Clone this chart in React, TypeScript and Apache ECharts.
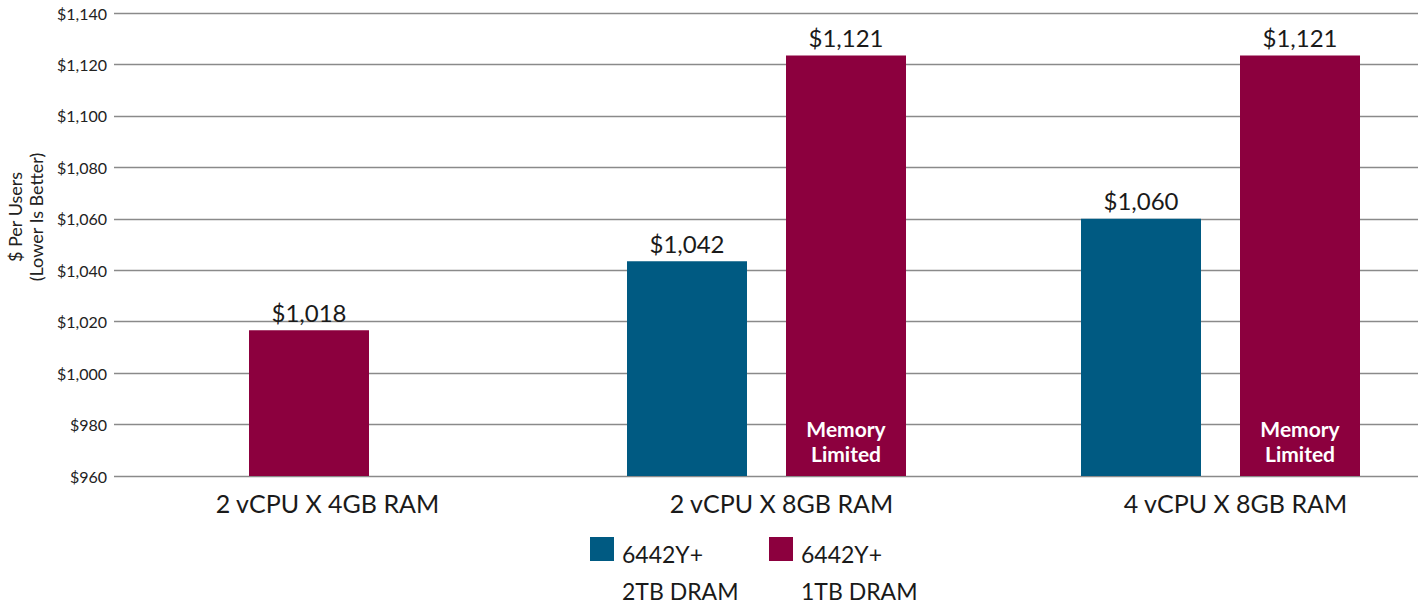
import React, { useEffect, useRef } from "react";
import * as echarts from "echarts";

const categories = ["2 vCPU X 4GB RAM", "2 vCPU X 8GB RAM", "4 vCPU X 8GB RAM"];
const seriesNames = ["6442Y+\n2TB DRAM", "6442Y+\n1TB DRAM"];
// bar heights
const blueValues: (number | string)[] = ["-", 1043.5, 1060];
const redValues: (number | string)[] = ["-", 1123.5, 1123.5];
const redSingleValues: (number | string)[] = [1016.7, "-", "-"];
// printed value labels
const blueLabels = ["", "$1,042", "$1,060"];
const redLabels = ["$1,018", "$1,121", "$1,121"];
const noteLabels = ["", "Memory\nLimited", "Memory\nLimited"];
const yMin = 960;
const yMax = 1140;
const yStep = 20;
const yTitle = "$ Per Users\n(Lower Is Better)";

const BLUE = "#005a82";
const RED = "#8c003e";
const FONT = "Lato";

export default function App() {
  const ref = useRef<HTMLDivElement>(null);
  useEffect(() => {
    if (!ref.current) return;
    const chart = echarts.init(ref.current, undefined, { renderer: "svg" });
    const top = 13;
    const height = 463;
    const hiddenY = (gridIndex: number) => ({
      type: "value",
      gridIndex,
      min: yMin,
      max: yMax,
      interval: yStep,
      show: false,
    });
    const hiddenX = (gridIndex: number) => ({
      type: "category",
      gridIndex,
      data: categories,
      show: false,
    });
    const topLabel = (labels: string[]) => ({
      show: true,
      position: "top",
      distance: 6,
      color: "#1a1a1a",
      fontFamily: FONT,
      fontSize: 24,
      formatter: (p: any) => labels[p.dataIndex],
    });
    const legendText = (x: number, y: number, text: string) => ({
      type: "text",
      x,
      y,
      style: { text, fontFamily: FONT, fontSize: 23, fill: "#1a1a1a", verticalAlign: "middle" },
    });
    chart.setOption({
      animation: false,
      backgroundColor: "#ffffff",
      grid: [
        { left: 114, top, width: 1304, height },
        { left: 85.5, top, width: 1362, height },
        { left: 82, top, width: 1362, height },
      ],
      xAxis: [
        hiddenX(0),
        {
          type: "category",
          gridIndex: 1,
          data: categories,
          axisLine: { show: false },
          axisTick: { show: false },
          axisLabel: {
            color: "#1a1a1a",
            fontFamily: FONT,
            fontSize: 25,
            margin: 14,
            padding: [0, 0, 0, 30],
          },
        },
        hiddenX(1),
        hiddenX(2),
      ],
      yAxis: [
        {
          type: "value",
          gridIndex: 0,
          min: yMin,
          max: yMax,
          interval: yStep,
          axisLine: { show: false },
          axisTick: { show: false },
          axisLabel: {
            color: "#222",
            fontFamily: FONT,
            fontSize: 16,
            margin: 7,
            formatter: (v: number) => "$" + v.toLocaleString("en-US"),
          },
          splitLine: { show: true, lineStyle: { color: "#8a8a8a", width: 1.3 } },
        },
        hiddenY(1),
        hiddenY(1),
        hiddenY(2),
      ],
      series: [
        {
          name: seriesNames[0],
          type: "bar",
          xAxisIndex: 1,
          yAxisIndex: 1,
          data: blueValues,
          barWidth: 120,
          barGap: "32.5%",
          itemStyle: { color: BLUE },
          label: topLabel(blueLabels),
        },
        {
          name: seriesNames[1],
          type: "bar",
          xAxisIndex: 1,
          yAxisIndex: 1,
          data: redValues,
          barWidth: 120,
          barGap: "32.5%",
          itemStyle: { color: RED },
          label: topLabel(redLabels),
        },
        {
          name: "ghost-blue",
          type: "bar",
          xAxisIndex: 2,
          yAxisIndex: 2,
          data: blueValues.map(() => "-"),
          barWidth: 120,
          barGap: "32.5%",
          itemStyle: { color: "transparent" },
          silent: true,
        },
        {
          name: "ghost-red",
          type: "bar",
          xAxisIndex: 2,
          yAxisIndex: 2,
          data: redValues,
          barWidth: 120,
          barGap: "32.5%",
          itemStyle: { color: "transparent" },
          silent: true,
          label: {
            show: true,
            position: "insideBottom",
            distance: 10,
            color: "#ffffff",
            fontFamily: FONT,
            fontWeight: "bold",
            fontSize: 21,
            lineHeight: 25,
            align: "center",
            formatter: (p: any) => noteLabels[p.dataIndex],
          },
        },
        {
          name: seriesNames[1] + " ",
          type: "bar",
          xAxisIndex: 3,
          yAxisIndex: 3,
          data: redSingleValues,
          barWidth: 120,
          itemStyle: { color: RED },
          label: topLabel(redLabels),
        },
      ],
      graphic: [
        {
          type: "text",
          x: 25,
          y: 217,
          rotation: Math.PI / 2,
          style: {
            text: yTitle,
            fontFamily: FONT,
            fontSize: 18,
            lineHeight: 21,
            fill: "#222",
            align: "center",
            verticalAlign: "middle",
          },
        },
        { type: "rect", shape: { x: 590, y: 537, width: 24, height: 24 }, style: { fill: BLUE } },
        legendText(622, 554, seriesNames[0].split("\n")[0]),
        legendText(622, 591, seriesNames[0].split("\n")[1]),
        { type: "rect", shape: { x: 769, y: 537, width: 24, height: 24 }, style: { fill: RED } },
        legendText(801, 554, seriesNames[1].split("\n")[0]),
        legendText(801, 591, seriesNames[1].split("\n")[1]),
      ],
    });
    return () => chart.dispose();
  }, []);
  return (
    <div
      style={{ position: "fixed", left: 0, top: 0, width: 1420, height: 606, overflow: "hidden", background: "#fff" }}
    >
      <div ref={ref} style={{ width: 1460, height: 606 }} />
    </div>
  );
}
